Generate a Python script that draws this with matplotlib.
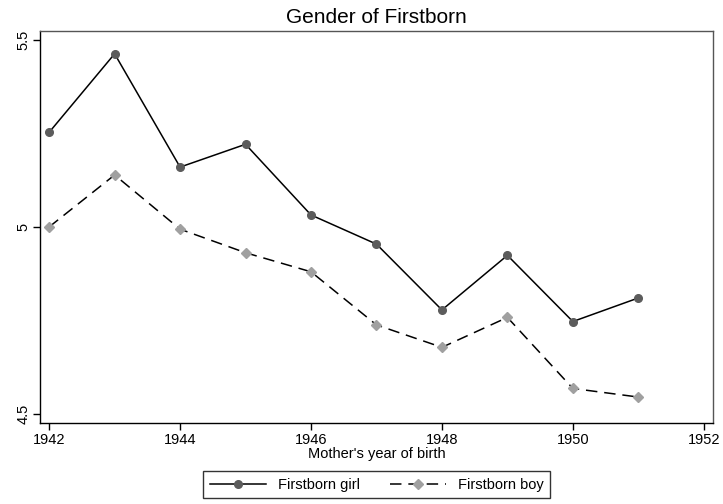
import matplotlib
matplotlib.use("Agg")
import matplotlib.pyplot as plt

plt.rcParams['font.family'] = ['Liberation Sans', 'DejaVu Sans']

years = [1942, 1943, 1944, 1945, 1946, 1947, 1948, 1949, 1950, 1951]
girl = [5.253, 5.463, 5.160, 5.221, 5.032, 4.954, 4.778, 4.924, 4.747, 4.810]
boy = [5.000, 5.139, 4.994, 4.931, 4.880, 4.738, 4.678, 4.758, 4.568, 4.545]
xticks = [1942, 1944, 1946, 1948, 1950, 1952]
yticks = [4.5, 5, 5.5]
ylabels = ["4.5", "5", "5.5"]

fig = plt.figure(figsize=(7.23, 5.04), dpi=100)
ax = fig.add_axes([0.0553, 0.161, 0.9308, 0.7775])

ax.plot(years, girl, color='black', lw=1.1, marker='o', markersize=5.5,
        markerfacecolor='#5c5c5c', markeredgecolor='#5c5c5c', label="Firstborn girl")
ax.plot(years, boy, color='black', lw=1.1, ls=(0, (7.5, 4.5)), marker='D', markersize=5.5,
        markerfacecolor='#a0a0a0', markeredgecolor='#a0a0a0', label="Firstborn boy")

ax.set_xlim(1941.86, 1952.14)
ax.set_ylim(4.476, 5.524)
ax.set_xticks(xticks)
ax.set_yticks(yticks)
ax.set_yticklabels(ylabels, rotation=90, va='center')
ax.tick_params(direction='out', length=5, width=1, labelsize=10.5, pad=2)
for s in ax.spines.values():
    s.set_linewidth(1)
    s.set_color('black')
ax.spines['right'].set_color('#555555')
ax.spines['top'].set_color('#555555')

ax.set_title("Gender of Firstborn", fontsize=15, pad=6)
ax.set_xlabel("Mother's year of birth", fontsize=10.5, labelpad=0)

leg = fig.legend(loc='lower center', bbox_to_anchor=(0.5207, 0.0), ncol=2, fontsize=10.5,
                 frameon=True, fancybox=False, edgecolor='black', handlelength=3.85,
                 handletextpad=0.82, columnspacing=2.05, borderpad=0.45, borderaxespad=0.4)
leg.get_frame().set_linewidth(1)

fig.savefig("out.png", dpi=100)
